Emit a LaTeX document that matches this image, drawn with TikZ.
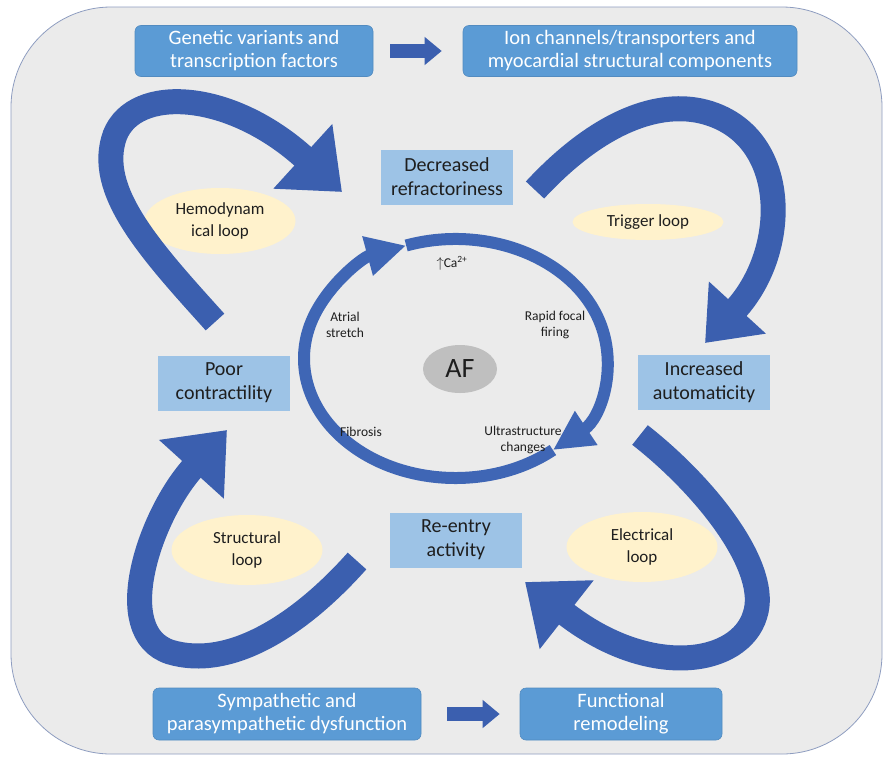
\documentclass[tikz,border=0pt]{standalone}
\usepackage{fontspec}
\setmainfont{Carlito}
\usetikzlibrary{arrows.meta,shapes.geometric,calc}
\definecolor{bgc}{HTML}{EBEBEB}
\definecolor{bordc}{HTML}{8E9DC0}
\definecolor{ribbon}{HTML}{3B5FAF}
\definecolor{ringc}{HTML}{3F66B5}
\definecolor{darkbox}{HTML}{5B9BD5}
\definecolor{lightbox}{HTML}{9DC3E6}
\definecolor{loopc}{HTML}{FFF2CC}
\definecolor{afc}{HTML}{BFBFBF}
\definecolor{txt}{HTML}{1E1E1E}
\begin{document}
\begin{tikzpicture}[x=1pt,y=-1pt,
  darkstyle/.style={rectangle,rounded corners=6pt,fill=darkbox,draw=darkbox!90!black,line width=0.6pt,
    text=white,align=center,inner sep=0pt,font=\fontsize{20.5}{23}\selectfont},
  lightstyle/.style={rectangle,fill=lightbox,text=txt,align=center,inner sep=0pt,
    minimum width=132pt,minimum height=55pt,font=\fontsize{20}{24}\selectfont},
  loopstyle/.style={ellipse,fill=loopc,text=txt,align=center,inner sep=0pt,
    minimum width=151pt,font=\fontsize{17}{22}\selectfont},
  ringlabel/.style={text=txt,align=center,inner sep=0pt,font=\fontsize{13.5}{16}\selectfont},
  ribbonarrow/.style={draw=ribbon,line width=25pt,-{Triangle[length=53pt,width=84pt]},color=ribbon},
  blockarrow/.style={draw=ribbon,line width=14pt,-{Triangle[length=17pt,width=27pt]},color=ribbon},
  ringarrow/.style={draw=ringc,line width=12pt,-{Triangle[length=40pt,width=38pt]},color=ringc}
]
\useasboundingbox (0,0) rectangle (885,758);
% background panel
\draw[fill=bgc,draw=bordc,line width=0.8pt,rounded corners=100pt] (11,7) rectangle (882,754);

% top and bottom boxes
\node[darkstyle,minimum width=238pt,minimum height=51pt] (gen) at (254,51) {Genetic variants and\\transcription factors};
\node[darkstyle,minimum width=334pt,minimum height=51pt] (ion) at (630,51) {Ion channels/transporters and\\myocardial structural components};
\node[darkstyle,minimum width=268pt,minimum height=52pt] (sym) at (287,714) {Sympathetic and\\parasympathetic dysfunction};
\node[darkstyle,minimum width=202pt,minimum height=52pt] (fun) at (621,714) {Functional\\remodeling};
\draw[blockarrow,shorten <=17pt,shorten >=21pt] (gen.east) -- (ion.west);
\draw[blockarrow,shorten <=26pt,shorten >=20pt] (sym.east) -- (fun.west);

% middle boxes
\node[lightstyle] (dec) at (447,177) {Decreased\\refractoriness};
\node[lightstyle] (poor) at (224,383) {Poor\\contractility};
\node[lightstyle] (inc) at (704,382) {Increased\\automaticity};
\node[lightstyle] (reen) at (456,540) {Re-entry\\activity};

% loop labels
\node[loopstyle,minimum height=66pt] (hemo) at (220,221) {Hemodynam\\ical loop};
\node[loopstyle,minimum height=36pt] (trig) at (648,222) {Trigger loop};
\node[loopstyle,minimum height=70pt] (stru) at (247,550) {Structural\\loop};
\node[loopstyle,minimum height=70pt] (elec) at (642,547) {Electrical\\loop};

% ribbon arrows
\coordinate (h0) at (215,322); \coordinate (h1) at (115,135); \coordinate (h2) at (342,192);
\draw[ribbonarrow] (h0) .. controls (150,250) and (95,190) .. (h1) .. controls (135,85) and (230,90) .. (h2);
\coordinate (t0) at (535,190); \coordinate (t1) at (705,112); \coordinate (t2) at (705,343);
\draw[ribbonarrow,-{Triangle[length=48pt,width=74pt]}] (t0) .. controls (600,120) and (660,100) .. (t1) .. controls (790,135) and (790,250) .. (t2);
\coordinate (e0) at (640,435); \coordinate (e1) at (755,615); \coordinate (e2) at (525,582);
\draw[ribbonarrow] (e0) .. controls (710,490) and (770,570) .. (e1) .. controls (740,665) and (650,680) .. (e2);
\coordinate (s0) at (357,561); \coordinate (s1) at (170,652); \coordinate (s2) at (227,430);
\draw[ribbonarrow] (s0) .. controls (300,625) and (230,670) .. (s1) .. controls (110,632) and (150,515) .. (s2);

% central ring
\coordinate (ctr) at (455.5,358.5);
\draw[ringarrow] (ctr) ++(50:151.5 and 119.5) arc[start angle=50,end angle=251,x radius=151.5,y radius=119.5];
\draw[ringarrow] (ctr) ++(251:151.5 and 119.5) arc[start angle=251,end angle=410,x radius=151.5,y radius=119.5];

\node[ellipse,fill=afc,minimum width=74pt,minimum height=48pt,inner sep=0pt,text=txt,font=\fontsize{28}{32}\selectfont] (af) at (460,369) {AF};
\node[ringlabel] (ca) at (452,263) {$\uparrow$Ca\textsuperscript{2+}};
\node[ringlabel] (atr) at (345,325) {Atrial\\stretch};
\node[ringlabel] (rap) at (555,325) {Rapid focal\\firing};
\node[ringlabel] (fib) at (361,432) {Fibrosis};
\node[ringlabel] (ult) at (523,440) {Ultrastructure\\changes};
\end{tikzpicture}
\end{document}
